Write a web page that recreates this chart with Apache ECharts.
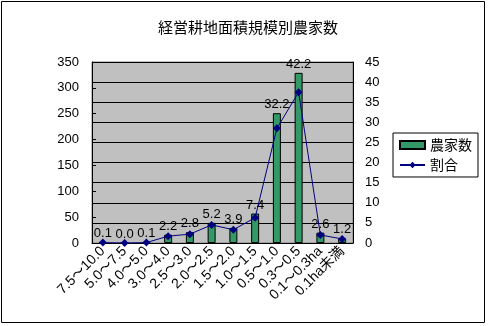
<!DOCTYPE html>
<html><head><meta charset="utf-8">
<script src="https://cdn.jsdelivr.net/npm/echarts@6/dist/echarts.min.js"></script>
<style>html,body{margin:0;padding:0;background:#fff}#c{width:488px;height:326px}</style>
</head><body><div id="c"></div>
<script>
const categories = ['7.5～10.0','5.0～7.5','4.0～5.0','3.0～4.0','2.5～3.0','2.0～2.5','1.5～2.0','1.0～1.5','0.5～1.0','0.3～0.5','0.1～0.3ha','0.1ha未満'];
const households = [1,0,1,16,21,39,29,57,251,329,20,9];
const ratio = [0.1,0.0,0.1,1.7,2.2,4.5,3.3,6.3,28.5,37.5,2.0,1.0];
const labelTexts = ['0.1','0.0','0.1','2.2','2.8','5.2','3.9','7.4','32.2','42.2','2.6','1.2'];
const leftTicks = [0,350,50];
const rightTicks = [0,45,5];

const font = '"Liberation Sans","Noto Sans CJK JP",sans-serif';
const chart = echarts.init(document.getElementById('c'));
chart.setOption({
  animation:false,
  textStyle:{fontFamily:font},
  title:{text:'経営耕地面積規模別農家数',left:243,textAlign:'center',top:15,
    textStyle:{fontSize:15,fontWeight:'normal',color:'#000',fontFamily:'"Noto Sans CJK JP",sans-serif'}},
  graphic:[{type:'rect',shape:{x:1.5,y:1.5,width:483,height:321},style:{fill:null,stroke:'#000',lineWidth:1},silent:true}],
  legend:{left:393,top:133,orient:'vertical',itemWidth:25,itemHeight:8,itemGap:6,
    padding:[5,6,5,6],borderColor:'#000',borderWidth:1,width:74,
    textStyle:{fontSize:14,color:'#000',fontFamily:'"Noto Sans CJK JP",sans-serif'},
    data:[{name:'農家数',icon:'rect'},{name:'割合'}]},
  grid:{left:92,right:135,top:62,bottom:83,show:true,backgroundColor:'#c0c0c0',borderColor:'#808080',borderWidth:1},
  xAxis:{type:'category',data:categories,
    axisLine:{lineStyle:{color:'#000'}},
    axisTick:{inside:true,length:4,lineStyle:{color:'#000'}},
    axisLabel:{rotate:45,interval:0,fontSize:14,color:'#000',margin:6,fontFamily:font}},
  yAxis:[
    {type:'value',min:leftTicks[0],max:leftTicks[1],interval:leftTicks[2],
      axisLine:{show:true,lineStyle:{color:'#000'}},
      axisTick:{show:true,inside:true,length:4,lineStyle:{color:'#000'}},
      splitLine:{show:false},
      axisLabel:{fontSize:13,color:'#000',margin:13}},
    {type:'value',min:rightTicks[0],max:rightTicks[1],interval:rightTicks[2],position:'right',
      axisLine:{show:true,lineStyle:{color:'#000'}},
      axisTick:{show:true,inside:true,length:4,lineStyle:{color:'#000'}},
      splitLine:{show:true,lineStyle:{color:'#000',width:1}},
      axisLabel:{fontSize:13,color:'#000',margin:12}}
  ],
  series:[
    {name:'農家数',type:'bar',data:households,barWidth:8,yAxisIndex:0,
      itemStyle:{color:'#339966',borderColor:'#000',borderWidth:1},
      label:{show:true,position:'top',distance:2,fontSize:13,color:'#000',
        formatter:p=>labelTexts[p.dataIndex]}},
    {name:'割合',type:'line',data:ratio,yAxisIndex:1,symbol:'diamond',symbolSize:8,
      lineStyle:{color:'#000080',width:1},itemStyle:{color:'#000080'},z:5}
  ]
});
</script></body></html>
